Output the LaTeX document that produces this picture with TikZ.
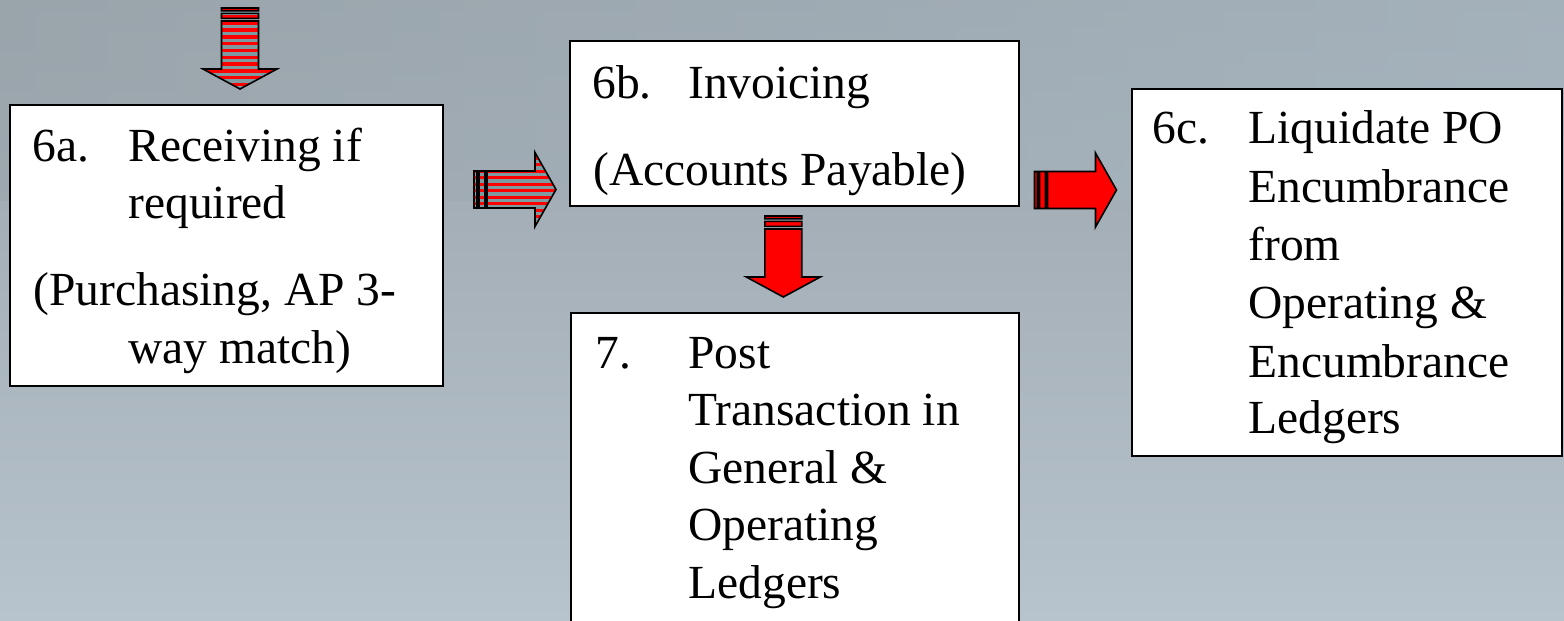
\documentclass[tikz,border=0pt]{standalone}
\usepackage{fontspec}
\setmainfont{Liberation Serif}
\usetikzlibrary{fit}
\definecolor{bgtop}{RGB}{154,164,171}
\definecolor{bgmid}{RGB}{158,170,178}
\definecolor{bgbot}{RGB}{183,195,205}
\definecolor{bgblue}{RGB}{170,186,198}
\definecolor{stripegray}{RGB}{125,155,160}
\definecolor{arrowred}{RGB}{255,0,0}
\tikzset{
  box/.style={draw=black, line width=1pt, fill=white, inner sep=0pt},
  txt/.style={anchor=base west, inner sep=0pt, font=\fontsize{23.75}{28.75}\selectfont},
  outline/.style={draw=black, line width=0.8pt, line join=miter},
  solidarrow/.style={fill=arrowred, outline},
}
% right-pointing block arrow: tail x, centre y
\newcommand\rarrowpath[2]{%
  (#1,#2-18.5) rectangle (#1+3,#2+18.5)
  (#1+5,#2-18.5) rectangle (#1+11,#2+18.5)
  (#1+13,#2-18.5) -- (#1+61,#2-18.5) -- (#1+61,#2-37) -- (#1+82,#2) --
  (#1+61,#2+37) -- (#1+61,#2+18.5) -- (#1+13,#2+18.5) -- cycle}
% down-pointing block arrow: centre x, tail y
\newcommand\darrowpath[2]{%
  (#1-18.5,#2) rectangle (#1+18.5,#2+2.7)
  (#1-18.5,#2+5.3) rectangle (#1+18.5,#2+10.3)
  (#1-18.5,#2+13) -- (#1-18.5,#2+61) -- (#1-37,#2+61) -- (#1,#2+81) --
  (#1+37,#2+61) -- (#1+18.5,#2+61) -- (#1+18.5,#2+13) -- cycle}
\begin{document}
\begin{tikzpicture}[x=0.5pt,y=-0.5pt]
\useasboundingbox (0,0) rectangle (1564,621);
\clip (0,0) rectangle (1564,621);
% background
\shade[top color=bgtop, middle color=bgmid, bottom color=bgbot] (0,0) rectangle (1564,621);
\shade[left color=bgtop, right color=bgblue, opacity=0.6] (0,0) rectangle (1564,200);

% boxes
\node[box, fit={(10,105) (443,386)}] (b6a) {};
\node[box, fit={(570,41) (1019,206)}] (b6b) {};
\node[box, fit={(571,313) (1019,660)}] (b7) {};
\node[box, fit={(1132,89) (1562,456)}] (b6c) {};

% texts 6a
\node[txt] (t6a0) at (32,161) {6a.};
\node[txt] (t6a1) at (128,161) {Receiving if};
\node[txt] (t6a2) at (128,218) {required};
\node[txt] (t6a3) at (33,305) {(Purchasing, AP 3-};
\node[txt] (t6a4) at (128,363) {way match)};
% texts 6b
\node[txt] (t6b0) at (592,98) {6b.};
\node[txt] (t6b1) at (688,98) {Invoicing};
\node[txt] (t6b2) at (593,185) {(Accounts Payable)};
% texts 7
\node[txt] (t70) at (595,368) {7.};
\node[txt] (t71) at (688,368) {Post};
\node[txt] (t72) at (688,425) {Transaction in};
\node[txt] (t73) at (688,483) {General \&};
\node[txt] (t74) at (688,540) {Operating};
\node[txt] (t75) at (688,598) {Ledgers};
% texts 6c
\node[txt] (t6c0) at (1152,143) {6c.};
\node[txt] (t6c1) at (1248,143) {Liquidate PO};
\node[txt] (t6c2) at (1248,202) {Encumbrance};
\node[txt] (t6c3) at (1248,260) {from};
\node[txt] (t6c4) at (1248,318) {Operating \&};
\node[txt] (t6c5) at (1248,377) {Encumbrance};
\node[txt] (t6c6) at (1248,433) {Ledgers};

% striped down arrow into 6a
\fill[stripegray] \darrowpath{240}{8};
\begin{scope}
  \clip \darrowpath{240}{8};
  \foreach \k in {0,...,13} \fill[arrowred] (190,8+\k*6.8) rectangle (290,8+\k*6.8+3.4);
\end{scope}
\draw[outline] \darrowpath{240}{8};

% striped right arrow 6a -> 6b
\fill[stripegray] \rarrowpath{474}{189.5};
\begin{scope}
  \clip \rarrowpath{474}{189.5};
  \foreach \k in {0,...,12} \fill[arrowred] (470,150+\k*6.5) rectangle (560,150+\k*6.5+3.25);
\end{scope}
\draw[outline] \rarrowpath{474}{189.5};

% solid down arrow 6b -> 7
\path[solidarrow] \darrowpath{783.3}{216};

% solid right arrow 6b -> 6c
\path[solidarrow] \rarrowpath{1034.5}{190};
\end{tikzpicture}
\end{document}
